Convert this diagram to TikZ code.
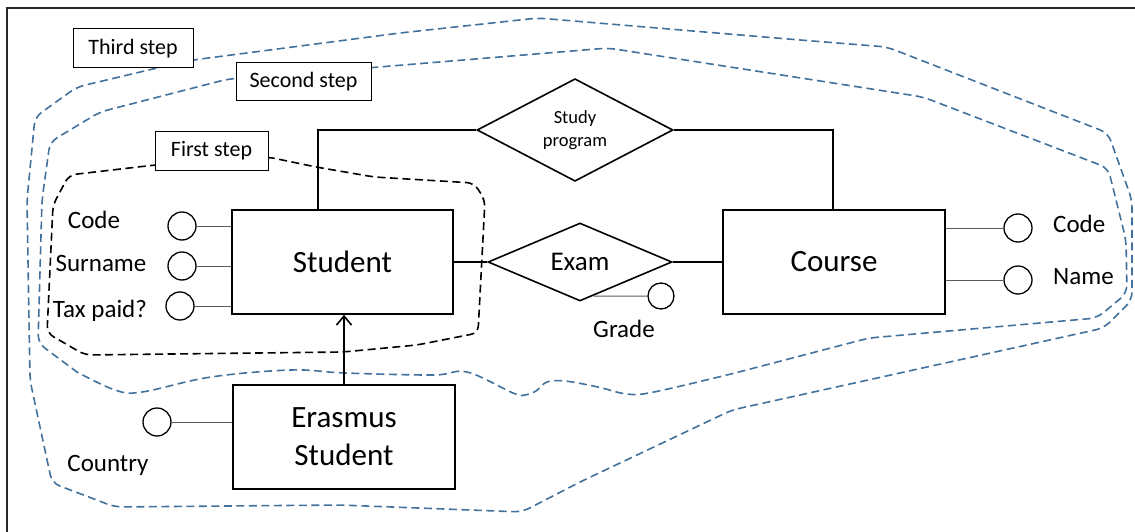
\documentclass[tikz,border=0pt]{standalone}
\usepackage{fontspec}
\setmainfont{Carlito}
\usetikzlibrary{shapes.geometric,arrows.meta,calc}
\definecolor{stepblue}{RGB}{65,113,156}
\definecolor{framegray}{RGB}{40,40,40}
\definecolor{attrgray}{RGB}{90,90,90}
\begin{document}
\begin{tikzpicture}[x=1pt,y=-1pt,
  erentity/.style={draw, line width=1.6pt, inner sep=0pt, align=center, fill=white},
  errel/.style={draw, diamond, line width=1.6pt, inner sep=0pt, align=center, fill=white},
  erattr/.style={draw, circle, line width=1.3pt, minimum size=28pt, inner sep=0pt, fill=white},
  erattrline/.style={draw=attrgray, line width=1pt},
  erlink/.style={line width=1.6pt},
  attrlabel/.style={font=\fontsize{25}{30}\selectfont, anchor=base, inner sep=0pt},
  stepbox/.style={draw, line width=1pt, fill=white, inner sep=0pt, font=\fontsize{22}{26}\selectfont},
  bluedash/.style={draw=stepblue, line width=1.6pt, dash pattern=on 8pt off 4.5pt},
  blackdash/.style={draw=black, line width=1.6pt, dash pattern=on 8pt off 4.5pt},
]
\useasboundingbox (0,0) rectangle (1135,532);

% frame (top and left edges)
\draw[framegray, line width=1.5pt] (1137,8) -- (7,8) -- (7,534);

% third step (outer boundary)
\draw[bluedash, rounded corners=8pt] (170,65) -- (193,60) -- (400,33) -- (538,18) -- (800,40) -- (887,47)
  -- (1108,133) -- (1132,200) -- (1132,300) -- (1104,328) -- (732,410) -- (580,482) -- (522,512)
  -- (340,505) -- (115,507) -- (52,483) -- (30,380) -- (27,200) -- (35,117) -- (77,87) -- (153,69) -- cycle;

% second step (inner boundary)
\draw[bluedash, rounded corners=8pt] (300,74) -- (367,68) -- (608,48) -- (923,97) -- (1108,168)
  -- (1126,240) -- (1127,293) -- (1097,318) -- (869,338)
  [sharp corners] -- plot[smooth, tension=0.6] coordinates {(735,373) (654,392) (627,394) (598,387)
     (565,381) (547,382) (536,391) (525,395) (513,393) (467,372) (433,375) (345,373) (291,370)
     (211,377) (142,392) (115,390) (77,372)}
  [rounded corners=8pt] -- (38,343) -- (42,200) -- (50,142) -- (100,112) -- (228,79) -- cycle;

% first step
\draw[blackdash, rounded corners=7pt] (210,162) -- (268,157) -- (316,167) -- (374,177) -- (474,183)
  -- (485,200) -- (478,333) -- (417,345) -- (343,352) -- (85,355) -- (47,333) -- (53,205)
  -- (69,175) -- (155,165) -- cycle;

% step labels
\node[stepbox, minimum width=120pt, minimum height=39pt] (third) at (133,48.5) {Third step};
\node[stepbox, minimum width=135pt, minimum height=38pt] (second) at (303.5,82) {Second step};
\node[stepbox, minimum width=113pt, minimum height=38pt] (first) at (211.5,151) {First step};

% entities
\node[erentity, minimum width=221pt, minimum height=104pt, font=\fontsize{31}{37}\selectfont] (student) at (342.5,262) {Student};
\node[erentity, minimum width=222pt, minimum height=104pt, font=\fontsize{31}{37}\selectfont] (course) at (834,262) {Course};
\node[erentity, minimum width=222pt, minimum height=104pt, font=\fontsize{31}{38}\selectfont] (erasmus) at (344,437) {Erasmus\\Student};

% relationships
\node[errel, minimum width=196pt, minimum height=78pt, font=\fontsize{18.5}{22.5}\selectfont] (study) at (575,130) {Study\\program};
\node[errel, minimum width=184pt, minimum height=78pt, font=\fontsize{27}{32}\selectfont] (exam) at (580,262) {Exam};

% relationship links
\draw[erlink] (student.east) -- (exam.west);
\draw[erlink] (exam.east) -- (course.west);
\draw[erlink] ([xshift=-24.5pt]student.north) |- (study.west);
\draw[erlink] (study.east) -| ([xshift=-1pt]course.north);
\draw[erlink, -{Straight Barb[length=9pt,width=15pt]}] (erasmus.north) -- (erasmus.north |- student.south);

% student attributes
\node[erattr] (scode) at (182,226) {};
\node[erattr] (ssurname) at (182,266) {};
\node[erattr] (stax) at (180,306) {};
\draw[erattrline] (scode.east) -- (scode.east -| student.west);
\draw[erattrline] (ssurname.east) -- (ssurname.east -| student.west);
\draw[erattrline] (stax.east) -- (stax.east -| student.west);
\node[attrlabel] (lscode) at (94,228) {Code};
\node[attrlabel] (lssurname) at (101,271) {Surname};
\node[attrlabel] (lstax) at (100,317) {Tax paid?};

% course attributes
\node[erattr] (ccode) at (1018,228) {};
\node[erattr] (cname) at (1018,280) {};
\draw[erattrline] (ccode.west -| course.east) -- (ccode.west);
\draw[erattrline] (cname.west -| course.east) -- (cname.west);
\node[attrlabel, anchor=base west] (lccode) at (1053,232) {Code};
\node[attrlabel, anchor=base west] (lcname) at (1053,284) {Name};

% erasmus attribute
\node[erattr] (country) at (157,422) {};
\draw[erattrline] (country.east) -- (country.east -| erasmus.west);
\node[attrlabel] (lcountry) at (108,471) {Country};

% exam attribute
\node[erattr, minimum size=26pt] (grade) at (661,296) {};
\draw[erattrline] (intersection of exam.south--exam.east and grade.west--grade.center) -- (grade.west);
\node[attrlabel] (lgrade) at (624,337) {Grade};

\end{tikzpicture}
\end{document}
